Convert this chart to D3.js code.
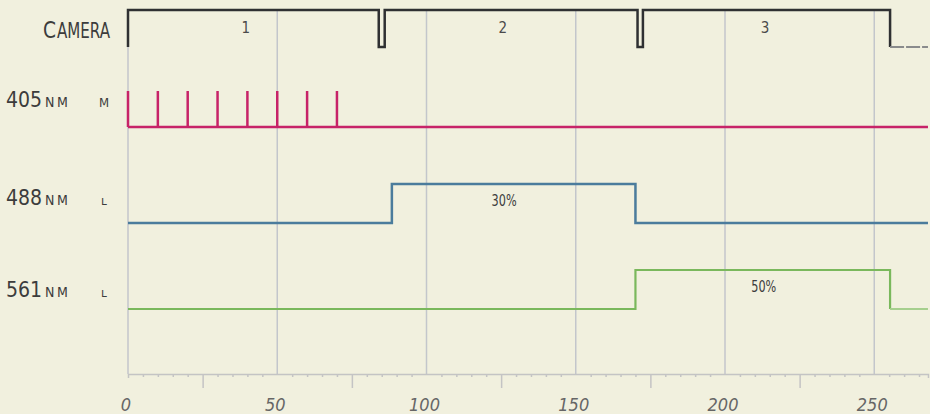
<!DOCTYPE html>
<html>
<head>
<meta charset="utf-8">
<script src="https://cdn.jsdelivr.net/npm/d3@7"></script>
<style>
  body { margin: 0; background: #f1f0de; }
  svg { display: block; }
  text { font-family: "DejaVu Sans Condensed", "DejaVu Sans", sans-serif; fill: #3c3c3c; }
</style>
</head>
<body>
<svg id="chart"></svg>
<script>
// timing data (x units)
const cameraTimes = [0, 0, 84, 86, 170.7, 172.5, 255.3, 268];
const cameraLevels = [0, 1, 0, 1, 0, 1, 0, 0];
const frameLabels = ["1", "2", "3"];
const frameLabelPos = [39.5, 125.6, 213.4];

const pulseTimes = [0, 10, 20, 30, 40, 50, 60, 70];

const blueTimes = [0, 88.4, 170, 268];
const blueLevels = [0, 1, 0, 0];
const blueLabel = "30%";
const blueLabelPos = 126;

const greenTimes = [0, 170, 255.3, 268];
const greenLevels = [0, 1, 0, 0];
const greenLabel = "50%";
const greenLabelPos = 213;

const tickValues = [0, 50, 100, 150, 200, 250];

const width = 930, height = 414;
const svg = d3.select("#chart").attr("width", width).attr("height", height);

// x scale
const x = d3.scaleLinear().domain([0, 268]).range([128, 128 + 268 * 2.985]);
const axisY = 374;

// gridlines
svg.append("g").selectAll("line").data(tickValues).join("line")
  .attr("x1", d => x(d)).attr("x2", d => x(d))
  .attr("y1", 10).attr("y2", axisY)
  .attr("stroke", "#c3c6cb").attr("stroke-width", 1.5);

// x axis: minor every 5, medium every 25
const axis = svg.append("g").attr("transform", `translate(0,${axisY})`)
  .call(d3.axisBottom(x).tickValues(d3.range(0, 269, 5)).tickSize(4).tickFormat(""));
axis.select(".domain").attr("stroke", "#c4c4c4").attr("stroke-width", 1.5);
axis.selectAll(".tick line").attr("stroke", "#c4c4c4").attr("stroke-width", 1.5)
  .attr("y2", d => (d % 50 === 0 ? 0 : d % 25 === 0 ? 14 : 3));

svg.append("g").selectAll("text").data(tickValues).join("text")
  .attr("x", d => x(d) - 2).attr("y", 411)
  .attr("text-anchor", "middle")
  .style("font-style", "italic").style("font-size", "18px").style("fill", "#666")
  .text(d => d);

// step line helper
function stepPath(times, levels, yLow, yHigh) {
  const y = d3.scaleLinear().domain([0, 1]).range([yLow, yHigh]);
  return d3.line().x(d => x(d[0])).y(d => y(d[1])).curve(d3.curveStepAfter)(d3.zip(times, levels));
}

// camera
svg.append("path")
  .attr("d", stepPath(cameraTimes.slice(0, 7), cameraLevels.slice(0, 7), 47, 10))
  .attr("fill", "none").attr("stroke", "#2f3032").attr("stroke-width", 2.5);
svg.append("path")
  .attr("d", stepPath(cameraTimes.slice(6), cameraLevels.slice(6), 47, 10))
  .attr("fill", "none").attr("stroke", "#8a8b8c").attr("stroke-width", 1.8).attr("stroke-dasharray", "14 2");
svg.append("g").selectAll("text").data(frameLabels).join("text")
  .attr("x", (d, i) => x(frameLabelPos[i])).attr("y", 33)
  .attr("text-anchor", "middle").style("font-size", "15px").style("fill", "#4a4a4a")
  .text(d => d);

// 405 pulses
const pulseColor = "#c72368";
svg.append("line")
  .attr("x1", x(0)).attr("x2", x(268)).attr("y1", 127).attr("y2", 127)
  .attr("stroke", pulseColor).attr("stroke-width", 2.5);
svg.append("g").selectAll("line").data(pulseTimes).join("line")
  .attr("x1", d => x(d)).attr("x2", d => x(d))
  .attr("y1", 127).attr("y2", 91)
  .attr("stroke", pulseColor).attr("stroke-width", 2.5);

// 488
svg.append("path")
  .attr("d", stepPath(blueTimes, blueLevels, 223, 184))
  .attr("fill", "none").attr("stroke", "#4b7c9c").attr("stroke-width", 2.5);
svg.append("text").attr("x", x(blueLabelPos)).attr("y", 206)
  .attr("text-anchor", "middle").style("font-size", "15px").attr("textLength", 25)
  .attr("lengthAdjust", "spacingAndGlyphs").text(blueLabel);

// 561
svg.append("path")
  .attr("d", stepPath(greenTimes.slice(0, 3), greenLevels.slice(0, 3), 309, 270))
  .attr("fill", "none").attr("stroke", "#7ab85c").attr("stroke-width", 2.2);
svg.append("path")
  .attr("d", stepPath(greenTimes.slice(2), greenLevels.slice(2), 309, 270))
  .attr("fill", "none").attr("stroke", "#a6cf8e").attr("stroke-width", 1.8);
svg.append("text").attr("x", x(greenLabelPos)).attr("y", 292)
  .attr("text-anchor", "middle").style("font-size", "15px").attr("textLength", 25)
  .attr("lengthAdjust", "spacingAndGlyphs").text(greenLabel);

// row labels
svg.append("text").attr("x", 43).attr("y", 38).style("font-size", "23px")
  .attr("textLength", 13).attr("lengthAdjust", "spacingAndGlyphs").text("C");
svg.append("text").attr("x", 57).attr("y", 38).style("font-size", "21px")
  .attr("textLength", 53).attr("lengthAdjust", "spacingAndGlyphs").text("AMERA");

const rows = [
  { num: "405", unit: "NM", mark: "M", y: 107 },
  { num: "488", unit: "NM", mark: "L", y: 205 },
  { num: "561", unit: "NM", mark: "L", y: 297 }
];
rows.forEach(r => {
  svg.append("text").attr("x", 42).attr("y", r.y).attr("text-anchor", "end")
    .style("font-size", "21px").text(r.num);
  svg.append("text").attr("x", 45).attr("y", r.y).style("font-size", "14px")
    .style("letter-spacing", "2.5px").text(r.unit);
  svg.append("text").attr("x", 104).attr("y", r.y).attr("text-anchor", "middle")
    .style("font-size", "13px").style("fill", "#3c3c3c")
    .text(r.mark === "M" ? "M" : "ʟ");
});
</script>
</body>
</html>
